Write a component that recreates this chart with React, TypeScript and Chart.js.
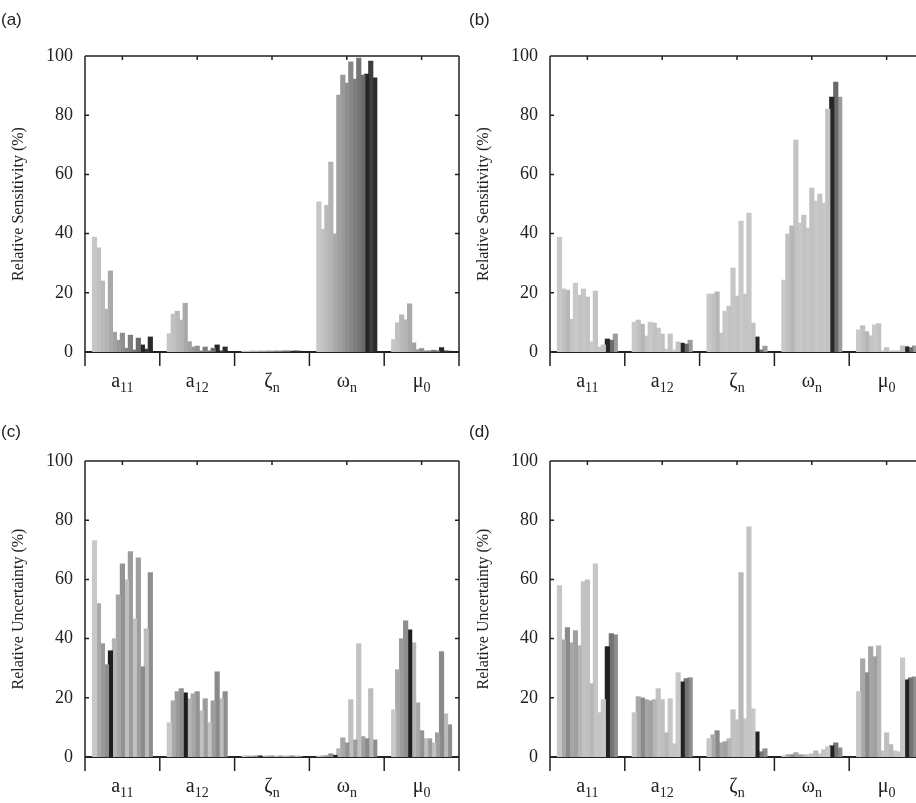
import React, { useEffect, useRef } from 'react';
import { Chart, registerables } from 'chart.js';
Chart.register(...registerables);

// ---------- categories / ticks ----------
const categories = ['a11', 'a12', 'zeta_n', 'omega_n', 'mu_0'];
const catMain = ['a', 'a', 'ζ', 'ω', 'μ'];
const catSub = ['11', '12', 'n', 'n', '0'];
const yTickValues = [0, 20, 40, 60, 80, 100];

// ---------- panel (a): relative sensitivity ----------
const sensA_a11 = [38.7, 35.1, 23.9, 14.4, 27.3, 6.6, 3.9, 6.3, 1.2, 5.6, 0.6, 4.6, 2.3, 0.9, 5.0];
const sensA_a12 = [6.1, 12.7, 13.7, 10.7, 16.4, 3.4, 1.6, 1.9, 0.3, 1.6, 0.3, 1.2, 2.3, 0.3, 1.6];
const sensA_zeta = [0.2, 0.2, 0.3, 0.2, 0.3, 0.2, 0.3, 0.2, 0.3, 0.2, 0.3, 0.3, 0.2, 0.3, 0.2];
const sensA_omega = [50.6, 41.4, 49.5, 64.1, 39.8, 86.7, 93.5, 90.8, 97.9, 92.1, 99.2, 93.5, 93.8, 98.2, 92.5];
const sensA_mu = [4.1, 9.8, 12.5, 10.8, 16.2, 3.0, 0.7, 1.1, 0.3, 0.3, 0.5, 0.3, 1.4, 0.3, 0.2];

// ---------- panel (b): relative sensitivity ----------
const sensB_a11 = [38.7, 21.2, 20.8, 11.0, 23.2, 19.1, 21.2, 18.5, 3.3, 20.5, 1.6, 2.3, 4.3, 3.9, 6.0];
const sensB_a12 = [10.0, 10.7, 9.3, 5.3, 10.0, 9.7, 8.0, 6.0, 0.9, 6.0, 0.6, 3.3, 2.9, 2.6, 3.9];
const sensB_zeta = [19.5, 19.5, 20.2, 6.3, 13.7, 15.4, 28.3, 18.8, 44.1, 19.5, 46.8, 9.7, 5.0, 0.6, 1.9];
const sensB_omega = [24.2, 39.8, 42.5, 71.5, 43.5, 46.2, 41.8, 55.3, 50.9, 53.3, 50.2, 82.0, 86.0, 91.1, 86.0];
const sensB_mu = [7.4, 8.8, 6.8, 5.4, 9.1, 9.5, 0.3, 1.4, 0.3, 0.3, 0.3, 2.0, 1.7, 1.4, 2.0];

// ---------- panel (c): relative uncertainty ----------
const uncC_a11 = [73.0, 51.7, 38.2, 31.1, 35.8, 39.9, 54.7, 65.2, 59.8, 69.3, 46.6, 67.2, 30.4, 43.2, 62.2];
const uncC_a12 = [11.5, 18.9, 22.0, 23.0, 21.6, 19.6, 21.3, 22.0, 15.5, 19.6, 11.5, 18.9, 28.7, 19.6, 22.0];
const uncC_zeta = [0.3, 0.3, 0.2, 0.3, 0.3, 0.2, 0.3, 0.3, 0.2, 0.3, 0.3, 0.2, 0.3, 0.3, 0.2];
const uncC_omega = [0.3, 0.3, 0.4, 1.0, 0.5, 2.7, 6.4, 4.7, 19.3, 5.7, 38.2, 6.8, 6.1, 23.0, 5.7];
const uncC_mu = [15.9, 29.4, 39.9, 45.9, 42.9, 38.5, 18.2, 8.8, 6.1, 6.1, 4.7, 8.1, 35.5, 14.5, 10.8];

// ---------- panel (d): relative uncertainty ----------
const uncD_a11 = [57.8, 39.5, 43.6, 38.5, 42.6, 37.5, 59.1, 59.8, 24.7, 65.2, 14.9, 19.3, 37.2, 41.6, 41.2];
const uncD_a12 = [14.9, 20.3, 19.9, 19.3, 18.9, 19.3, 23.0, 19.3, 8.1, 19.6, 4.4, 28.4, 25.3, 26.4, 26.7];
const uncD_zeta = [6.1, 7.4, 8.8, 4.7, 5.1, 6.1, 15.9, 12.5, 62.2, 12.8, 77.7, 16.2, 8.4, 1.7, 2.7];
const uncD_omega = [0.3, 0.7, 0.7, 1.4, 0.7, 0.7, 0.7, 1.0, 2.0, 1.0, 2.4, 3.4, 3.7, 4.7, 3.0];
const uncD_mu = [22.0, 33.1, 28.4, 37.2, 33.8, 37.5, 2.0, 8.1, 4.1, 2.0, 1.7, 33.4, 26.0, 26.7, 27.0];

// ---------- bar shades (one per series, per panel) ----------
const shadesA = ['#c6c6c6', '#c0c0c0', '#b9b9b9', '#b3b3b3', '#a9a9a9', '#a1a1a1', '#999999', '#8f8f8f', '#878787', '#7e7e7e', '#757575', '#6b6b6b', '#262626', '#3d3d3d', '#2a2a2a'];
const shadesB = ['#c8c8c8', '#c0c0c0', '#b6b6b6', '#c4c4c4', '#c8c8c8', '#c2c2c2', '#c6c6c6', '#c2c2c2', '#c8c8c8', '#c4c4c4', '#c6c6c6', '#c2c2c2', '#262626', '#6a6a6a', '#9c9c9c'];
const shadesC = ['#c8c8c8', '#a9a9a9', '#9a9a9a', '#8e8e8e', '#1e1e1e', '#b4b4b4', '#a6a6a6', '#939393', '#c0c0c0', '#9c9c9c', '#c2c2c2', '#9e9e9e', '#8a8a8a', '#bcbcbc', '#8e8e8e'];
const shadesD = ['#c6c6c6', '#a8a8a8', '#8a8a8a', '#a6a6a6', '#a0a0a0', '#b6b6b6', '#c2c2c2', '#c0c0c0', '#b8b8b8', '#c6c6c6', '#c4c4c4', '#c8c8c8', '#222222', '#747474', '#8c8c8c'];

const INK = '#222222';
const SERIF = '"Liberation Serif", "Times New Roman", serif';
const SANS = '"Liberation Sans", Arial, sans-serif';
const CW = 470;
const CH = 400;

type PanelProps = {
  left: number;
  top: number;
  letter: string;
  letterX: number;
  letterY: number;
  yTitle: string;
  groups: number[][];
  shades: string[];
};

function Panel({ left, top, letter, letterX, letterY, yTitle, groups, shades }: PanelProps) {
  const ref = useRef<HTMLCanvasElement | null>(null);

  useEffect(() => {
    if (!ref.current) return;
    const datasets = shades.map((c, i) => ({
      label: 'S' + (i + 1),
      data: groups.map((g) => g[i]),
      backgroundColor: c,
      borderWidth: 0,
      inflateAmount: 0.6,
      categoryPercentage: 0.8,
      barPercentage: 1.0,
    }));

    const framePlugin = {
      id: 'frame',
      beforeDatasetsDraw(chart: any) {
        const { ctx, chartArea } = chart;
        ctx.save();
        ctx.strokeStyle = INK;
        ctx.lineWidth = 2;
        ctx.beginPath();
        ctx.moveTo(chartArea.left, chartArea.bottom);
        ctx.lineTo(chartArea.right, chartArea.bottom);
        ctx.stroke();
        ctx.restore();
      },
      afterDatasetsDraw(chart: any) {
        const { ctx, chartArea } = chart;
        const xs = chart.scales.x;
        const ys = chart.scales.y;
        const L = chartArea.left, R = chartArea.right, T = chartArea.top, B = chartArea.bottom;
        ctx.save();
        ctx.strokeStyle = INK;
        ctx.lineWidth = 1.5;
        ctx.beginPath();
        ctx.moveTo(L, T);
        ctx.lineTo(R, T);
        ctx.moveTo(L, T);
        ctx.lineTo(L, B + 14);
        ctx.moveTo(R, T);
        ctx.lineTo(R, B + 14);
        const centers = categories.map((_, i) => xs.getPixelForValue(i));
        for (let i = 0; i < centers.length - 1; i++) {
          const bx = (centers[i] + centers[i + 1]) / 2;
          ctx.moveTo(bx, B);
          ctx.lineTo(bx, B + 14);
        }
        centers.forEach((cx) => {
          ctx.moveTo(cx, T);
          ctx.lineTo(cx, T + 4);
        });
        yTickValues.forEach((v) => {
          const py = ys.getPixelForValue(v);
          ctx.moveTo(L, py);
          ctx.lineTo(L + 4, py);
          ctx.moveTo(R, py);
          ctx.lineTo(R - 4, py);
        });
        ctx.stroke();

        ctx.fillStyle = INK;
        ctx.textBaseline = 'alphabetic';
        ctx.textAlign = 'left';
        const baseY = 387;
        centers.forEach((cx, i) => {
          ctx.font = `20px ${SERIF}`;
          const wm = ctx.measureText(catMain[i]).width;
          ctx.font = `14px ${SERIF}`;
          const ws = ctx.measureText(catSub[i]).width;
          const x0 = cx - (wm + ws) / 2;
          ctx.font = `20px ${SERIF}`;
          ctx.fillText(catMain[i], x0, baseY);
          ctx.font = `14px ${SERIF}`;
          ctx.fillText(catSub[i], x0 + wm, baseY + 5);
        });

        ctx.font = `17px ${SANS}`;
        ctx.textBaseline = 'middle';
        ctx.fillText(letter, letterX, letterY);
        ctx.restore();
      },
    };

    const chart = new Chart(ref.current, {
      type: 'bar',
      data: { labels: categories, datasets },
      options: {
        animation: false,
        responsive: false,
        devicePixelRatio: 1,
        layout: { padding: { left: 0, top: 56, right: 11, bottom: 48 } },
        plugins: { legend: { display: false }, tooltip: { enabled: false } },
        scales: {
          x: { type: 'category', display: false, offset: true },
          y: {
            min: 0,
            max: 100,
            afterFit: (s: any) => {
              s.width = 85;
            },
            ticks: {
              stepSize: 20,
              color: INK,
              padding: 12,
              font: { family: SERIF, size: 18 },
            },
            grid: { display: false, drawTicks: false },
            border: { display: false },
            title: {
              display: true,
              text: yTitle,
              color: INK,
              font: { family: SERIF, size: 16 },
              padding: { top: 9, bottom: 4 },
            },
          },
        },
      },
      plugins: [framePlugin],
    } as any);
    return () => chart.destroy();
  }, []);

  return (
    <canvas
      ref={ref}
      width={CW}
      height={CH}
      style={{ position: 'absolute', left, top, width: CW, height: CH, display: 'block' }}
    />
  );
}

export default function App() {
  return (
    <div
      style={{
        position: 'absolute',
        left: 0,
        top: 0,
        width: 916,
        height: 803,
        overflow: 'hidden',
        background: '#ffffff',
      }}
    >
      <Panel left={0} top={0} letter="(a)" letterX={1} letterY={20} yTitle="Relative Sensitivity (%)"
        groups={[sensA_a11, sensA_a12, sensA_zeta, sensA_omega, sensA_mu]} shades={shadesA} />
      <Panel left={465} top={0} letter="(b)" letterX={4} letterY={20} yTitle="Relative Sensitivity (%)"
        groups={[sensB_a11, sensB_a12, sensB_zeta, sensB_omega, sensB_mu]} shades={shadesB} />
      <Panel left={0} top={405} letter="(c)" letterX={1} letterY={27} yTitle="Relative Uncertainty (%)"
        groups={[uncC_a11, uncC_a12, uncC_zeta, uncC_omega, uncC_mu]} shades={shadesC} />
      <Panel left={465} top={405} letter="(d)" letterX={4} letterY={27} yTitle="Relative Uncertainty (%)"
        groups={[uncD_a11, uncD_a12, uncD_zeta, uncD_omega, uncD_mu]} shades={shadesD} />
    </div>
  );
}
